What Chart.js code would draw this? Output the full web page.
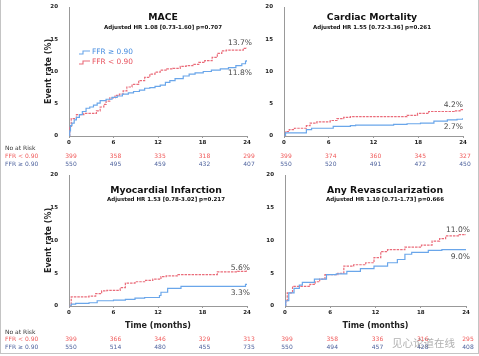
<!DOCTYPE html>
<html><head><meta charset="utf-8">
<script src="https://cdn.jsdelivr.net/npm/chart.js@4.4.1/dist/chart.umd.min.js"></script>
<style>
html,body{margin:0;padding:0;background:#fff;}
#wrap{position:relative;width:479px;height:356px;overflow:hidden;background:#fff;}
canvas{position:absolute;}
#frame{position:absolute;left:0;top:-2px;width:477px;height:355px;border:1px solid #c4c4c4;border-top:none;}
#wm{position:absolute;left:392px;top:335px;font:10.5px "Noto Sans CJK SC";color:rgba(110,110,110,0.55);white-space:nowrap;}
</style></head>
<body><div id="wrap">
<div id="frame"></div>
<canvas id="c1" width="258" height="172" style="left:0;top:0"></canvas>
<canvas id="c2" width="239" height="172" style="left:240px;top:0"></canvas>
<canvas id="c3" width="258" height="188" style="left:0;top:168px"></canvas>
<canvas id="c4" width="239" height="188" style="left:240px;top:168px"></canvas>
<div id="wm">见心论道在线</div>
</div>
<script>
// ---------- DATA ----------
const riskMonths = [0, 6, 12, 18, 24];

// MACE
const maceHighT = [0,0.1,0.2,0.4,0.7,1.0,1.4,1.8,2.3,2.8,3.3,3.8,4.2,5.0,5.8,6.5,7.2,8.0,8.7,9.5,10.2,10.9,11.6,12.3,13.0,13.6,14.3,15.4,16.2,17.0,18.1,19.2,20.4,21.5,22.5,23.3,23.8,24];
const maceHighY = [0,0.8,1.6,2.0,2.5,2.9,3.3,3.8,4.3,4.5,4.8,5.1,5.5,5.7,6.0,6.2,6.5,6.7,6.9,7.1,7.4,7.5,7.7,7.9,8.3,8.6,8.9,9.3,9.6,9.8,10.0,10.2,10.4,10.6,10.9,11.2,11.6,11.8];
const maceLowT = [0,0.1,0.3,1.0,2.0,3.7,4.2,4.7,5.0,5.5,6.2,6.8,7.3,7.8,8.5,9.4,10.2,10.9,11.6,12.3,13.2,14.0,15.0,15.8,16.7,17.5,18.3,19.3,20.0,20.6,21.2,23.5,24];
const maceLowY = [0,1.5,2.7,3.3,3.5,3.9,4.5,4.9,5.4,5.9,6.3,6.5,7.0,7.6,8.0,8.6,9.1,9.6,9.9,10.2,10.4,10.5,10.8,10.9,11.1,11.4,11.7,12.2,12.8,13.2,13.3,13.6,13.7];
const maceRiskLow = [399, 358, 335, 318, 299];
const maceRiskHigh = [550, 495, 459, 432, 407];

// Cardiac mortality
const cardHighT = [0,0.2,3.0,3.7,6.6,8.9,9.6,14.7,16.5,18.3,20.1,21.9,23.2,24];
const cardHighY = [0,0.5,1.0,1.2,1.5,1.6,1.7,1.8,1.9,2.0,2.3,2.5,2.6,2.8];
const cardLowT = [0,0.2,0.7,1.4,3.0,3.5,4.4,6.2,7.1,8.0,8.9,16.5,17.9,19.4,22.8,23.6,24];
const cardLowY = [0,0.7,1.0,1.2,1.6,2.0,2.2,2.4,2.7,2.9,3.0,3.2,3.5,3.8,3.9,4.1,4.2];
const cardRiskLow = [399, 374, 360, 345, 327];
const cardRiskHigh = [550, 520, 491, 472, 450];

// Myocardial infarction
const miHighT = [0,0.3,0.9,2.7,3.8,6.0,7.6,8.9,10.2,12.2,12.4,13.3,15.1,23.8,24];
const miHighY = [0,0.3,0.4,0.5,0.8,0.9,1.0,1.2,1.3,1.6,2.1,2.7,3.0,3.3,3.3];
const miLowT = [0,0.3,2.7,3.6,4.4,5.1,6.9,7.6,8.9,10.2,11.3,12.4,13.1,14.7,20.0,22.7,24];
const miLowY = [0,1.4,1.5,1.9,2.3,2.4,2.8,3.5,3.7,3.9,4.1,4.5,4.6,4.8,5.2,5.3,5.5];
const miRiskLow = [399, 366, 346, 329, 313];
const miRiskHigh = [550, 514, 480, 455, 735];

// Any revascularization
const revHighT = [0,0.1,0.5,1.2,1.9,2.3,3.9,5.5,6.8,8.2,10.0,11.8,13.6,14.9,15.9,16.8,19.0,20.8,24];
const revHighY = [0,0.8,2.0,2.7,3.2,3.6,4.1,4.8,4.9,5.3,5.7,6.1,6.6,7.1,7.9,8.2,8.5,8.6,8.7];
const revLowT = [0,0.1,0.3,1.0,3.3,4.0,4.6,5.3,7.0,7.8,9.1,10.7,11.8,12.7,13.6,15.9,18.1,19.5,20.5,21.3,23.1,24];
const revLowY = [0,0.8,2.0,3.0,3.3,3.7,4.1,4.8,5.0,6.1,6.3,6.6,7.4,8.3,8.6,9.0,9.3,9.9,10.3,10.7,10.9,11.0];
const revRiskLow = [399, 358, 336, 316, 295];
const revRiskHigh = [550, 494, 457, 428, 408];

// ---------- STYLE ----------
const FONT = '"DejaVu Sans", Verdana, sans-serif';
const BLUE = '#6aa6ea';
const RED = '#ea6c7a';
const RED_TXT = '#f05a5a';
const BLUE_TXT = '#4f639e';

function pts(t, y) { return t.map((v, i) => ({ x: v, y: y[i] })); }

const panelPlugin = {
  id: 'panelText',
  afterDraw(chart, args, o) {
    const ctx = chart.ctx, xs = chart.scales.x, ys = chart.scales.y, ca = chart.chartArea;
    ctx.save();
    ctx.textBaseline = 'middle';
    ctx.textAlign = 'center';
    ctx.fillStyle = '#111';
    ctx.font = 'bold 9.3px ' + FONT;
    ctx.fillText(o.title, o.titleX, o.titleY);
    ctx.font = 'bold 5.5px ' + FONT;
    ctx.fillText(o.subtitle, o.titleX, o.subY);
    // end labels
    ctx.font = '7.6px ' + FONT;
    ctx.fillStyle = '#4a4a4a';
    ctx.textAlign = 'right';
    o.ends.forEach(e => ctx.fillText(e.text, ca.right + o.endDx, ys.getPixelForValue(e.at)));
    // y title
    if (o.yTitle) {
      ctx.save();
      ctx.translate(49, (ca.top + ca.bottom) / 2);
      ctx.rotate(-Math.PI / 2);
      ctx.textAlign = 'center';
      ctx.fillStyle = '#222';
      ctx.font = 'bold 8px ' + FONT;
      ctx.fillText('Event rate (%)', 0, 0);
      ctx.restore();
    }
    // x title
    if (o.xTitleY) {
      ctx.textAlign = 'center';
      ctx.fillStyle = '#222';
      ctx.font = 'bold 8px ' + FONT;
      ctx.fillText('Time (months)', (ca.left + ca.right) / 2, o.xTitleY);
    }
    // risk table
    ctx.font = '6px ' + FONT;
    ctx.textAlign = 'center';
    riskMonths.forEach((m, i) => {
      const px = xs.getPixelForValue(m) + 2;
      ctx.fillStyle = RED_TXT;
      ctx.fillText(String(o.riskLow[i]), px, o.riskY[1]);
      ctx.fillStyle = BLUE_TXT;
      ctx.fillText(String(o.riskHigh[i]), px, o.riskY[2]);
    });
    if (o.rowLabels) {
      ctx.textAlign = 'left';
      ctx.fillStyle = '#333';
      ctx.fillText('No at Risk', 5, o.riskY[0]);
      ctx.fillStyle = RED_TXT;
      ctx.fillText('FFR < 0.90', 5, o.riskY[1]);
      ctx.fillStyle = BLUE_TXT;
      ctx.fillText('FFR \u2265 0.90', 5, o.riskY[2]);
    }
    // legend
    if (o.legend) {
      const items = [[BLUE, '#4a8fe0', 'FFR \u2265 0.90', 52], [RED, '#e85560', 'FFR < 0.90', 62]];
      items.forEach(([lc, tc, txt, y]) => {
        ctx.strokeStyle = lc; ctx.lineWidth = 1.1;
        ctx.beginPath();
        ctx.moveTo(79, y + 2); ctx.lineTo(83, y + 2); ctx.lineTo(83, y - 1); ctx.lineTo(90, y - 1);
        ctx.stroke();
        ctx.fillStyle = tc; ctx.textAlign = 'left';
        ctx.font = '7.4px ' + FONT;
        ctx.fillText(txt, 92, y);
      });
    }
    ctx.restore();
  }
};

function makeChart(id, p) {
  return new Chart(document.getElementById(id), {
    type: 'line',
    data: {
      datasets: [
        { data: pts(p.hT, p.hY), borderColor: BLUE, borderWidth: 1.2, pointRadius: 0, stepped: 'before', fill: false },
        { data: pts(p.lT, p.lY), borderColor: RED, borderWidth: 1.2, borderDash: [2.5, 1], pointRadius: 0, stepped: 'before', fill: false }
      ]
    },
    options: {
      responsive: false, animation: false, devicePixelRatio: 1,
      layout: { padding: { left: 0, right: p.padR, top: 7, bottom: p.padB } },
      plugins: {
        legend: { display: false }, tooltip: { enabled: false },
        panelText: p.text
      },
      scales: {
        x: {
          type: 'linear', min: 0, max: 24,
          ticks: { stepSize: 6, color: '#222', font: { family: FONT, size: 5.5, weight: 'bold' }, padding: 1, maxRotation: 0, autoSkip: false },
          grid: { drawOnChartArea: false, drawTicks: true, tickLength: 2, color: '#999' },
          border: { display: true, color: '#999', width: 1 },
          afterFit: s => { s.height = 10; }
        },
        y: {
          min: 0, max: 20,
          ticks: { stepSize: 5, color: '#222', font: { family: FONT, size: 5.5, weight: 'bold' }, padding: 3 },
          grid: { display: false },
          border: { display: true, color: '#999', width: 1 },
          afterFit: s => { s.width = p.yW; }
        }
      }
    },
    plugins: [panelPlugin]
  });
}

makeChart('c1', { hT: maceHighT, hY: maceHighY, lT: maceLowT, lY: maceLowY, yW: 69, padR: 11, padB: 26,
  text: { title: 'MACE', subtitle: 'Adjusted HR 1.08 [0.73-1.60] p=0.707', titleX: 163, titleY: 17.5, subY: 27.5,
    ends: [{ text: '13.7%', at: 14.4 }, { text: '11.8%', at: 9.8 }], endDx: 5, yTitle: true, legend: true,
    riskLow: maceRiskLow, riskHigh: maceRiskHigh, riskY: [148, 156, 164], rowLabels: true } });

makeChart('c2', { hT: cardHighT, hY: cardHighY, lT: cardLowT, lY: cardLowY, yW: 44, padR: 16, padB: 26,
  text: { title: 'Cardiac Mortality', subtitle: 'Adjusted HR 1.55 [0.72-3.36] p=0.261', titleX: 132, titleY: 17.5, subY: 27.5,
    ends: [{ text: '4.2%', at: 4.8 }, { text: '2.7%', at: 1.4 }], endDx: 0,
    riskLow: cardRiskLow, riskHigh: cardRiskHigh, riskY: [148, 156, 164] } });

makeChart('c3', { hT: miHighT, hY: miHighY, lT: miLowT, lY: miLowY, yW: 69, padR: 11, padB: 40,
  text: { title: 'Myocardial Infarction', subtitle: 'Adjusted HR 1.53 [0.78-3.02] p=0.217', titleX: 166, titleY: 23, subY: 32,
    ends: [{ text: '5.6%', at: 5.85 }, { text: '3.3%', at: 2.0 }], endDx: 3, yTitle: true, xTitleY: 158,
    riskLow: miRiskLow, riskHigh: miRiskHigh, riskY: [164, 171, 179], rowLabels: true } });

makeChart('c4', { hT: revHighT, hY: revHighY, lT: revLowT, lY: revLowY, yW: 45, padR: 13, padB: 40,
  text: { title: 'Any Revascularization', subtitle: 'Adjusted HR 1.10 [0.71-1.73] p=0.666', titleX: 145, titleY: 23, subY: 32,
    ends: [{ text: '11.0%', at: 11.6 }, { text: '9.0%', at: 7.5 }], endDx: 4, xTitleY: 158,
    riskLow: revRiskLow, riskHigh: revRiskHigh, riskY: [164, 171, 179] } });
</script>
</body></html>
